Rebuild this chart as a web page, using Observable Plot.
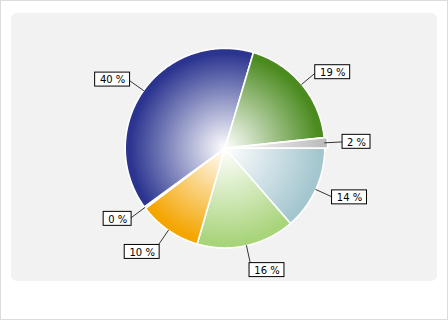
<!DOCTYPE html>
<html><head><meta charset="utf-8">
<script src="https://cdn.jsdelivr.net/npm/d3@7"></script>
<script src="https://cdn.jsdelivr.net/npm/@observablehq/plot@0.6"></script>
<style>
body{margin:0;background:#fff;}
#frame{position:relative;width:446px;height:318px;border:1px solid #dcdcdc;background:#fff;overflow:hidden;}
#panel{position:absolute;left:10px;top:12px;width:426px;height:268px;background:#f2f2f2;border-radius:6px;}
#chart{position:absolute;left:-1px;top:-1px;}
</style></head><body>
<div id="frame"><div id="panel"></div><div id="chart"></div></div>
<script>
// Slices, clockwise from 3 o'clock
const labels   = ["14 %", "16 %", "10 %", "0 %", "40 %", "19 %", "2 %"];
const values   = [13.6, 15.9, 10.2, 0.3, 39.6, 18.7, 1.7];
const colors   = ["#a4c6cf", "#a8d47a", "#f4a500", "#d9d9d9", "#2b3590", "#4a8a1e", "#bdbdbd"];
const exploded = [0, 0, 0, 0, 0, 0, 1];

const total = d3.sum(values);
const TAU = 2 * Math.PI;
const slices = [];
let acc = 0;
values.forEach((v, i) => {
  const a0 = acc / total * TAU, a1 = (acc + v) / total * TAU;
  acc += v;
  const mid = (a0 + a1) / 2;
  const off = exploded[i] ? 0.03 : 0;
  const ox = off * Math.cos(mid), oy = off * Math.sin(mid);
  const pts = [{x: ox, y: oy}];
  const n = Math.max(2, Math.ceil((a1 - a0) / (TAU / 720)));
  for (let k = 0; k <= n; k++) {
    const a = a0 + (a1 - a0) * k / n;
    pts.push({x: ox + Math.cos(a), y: oy + Math.sin(a)});
  }
  pts.push({x: ox, y: oy});
  slices.push({i, mid, ox, oy, pts, label: labels[i]});
});

const LR = 1.19;
const leaders = slices.flatMap(s => [
  {i: s.i, x: Math.cos(s.mid), y: Math.sin(s.mid)},
  {i: s.i, x: LR * Math.cos(s.mid), y: LR * Math.sin(s.mid)}
]);
const boxes = slices.map(s => {
  const c = Math.cos(s.mid), sn = Math.sin(s.mid);
  const ex = LR * c, ey = LR * sn;
  const w = (7 * s.label.length + 7) / 100, h = 0.14;
  const x1 = c >= 0 ? ex - 0.01 : ex + 0.02 - w;
  const y1 = sn > 0.7 ? ey - 0.01 : ey - h / 2;
  return {x1, x2: x1 + w, y1, y2: y1 + h, cx: x1 + w / 2, cy: y1 + h / 2, label: s.label};
});

const marks = slices.map(s => Plot.line(s.pts, {
  x: "x", y: "y", fill: `url(#grad${s.i})`, stroke: "white", strokeWidth: 1.6, curve: "linear"
}));
marks.push(Plot.line(leaders, {x: "x", y: "y", z: "i", stroke: "#333", strokeWidth: 1}));
marks.push(Plot.rect(boxes, {x1: "x1", x2: "x2", y1: "y1", y2: "y2", fill: "white", stroke: "black", strokeWidth: 1}));
marks.push(Plot.text(boxes, {x: "cx", y: "cy", text: "label", fill: "black", fontSize: 10, dy: 0.5}));

const plot = Plot.plot({
  width: 448, height: 320,
  margin: 0,
  style: {background: "transparent", fontFamily: "DejaVu Sans, sans-serif"},
  x: {domain: [-2.25, 2.23], range: [0, 448], axis: null},
  y: {domain: [-1.48, 1.72], range: [0, 320], axis: null},
  marks
});

const xs = plot.scale("x"), ys = plot.scale("y");
const ns = "http://www.w3.org/2000/svg";
const defs = document.createElementNS(ns, "defs");
slices.forEach(s => {
  const g = document.createElementNS(ns, "radialGradient");
  g.setAttribute("id", `grad${s.i}`);
  g.setAttribute("gradientUnits", "userSpaceOnUse");
  g.setAttribute("cx", xs.apply(s.ox));
  g.setAttribute("cy", ys.apply(s.oy));
  g.setAttribute("r", xs.apply(1) - xs.apply(0));
  [[0, "#ffffff"], [0.95, colors[s.i]], [1, colors[s.i]]].forEach(([o, c]) => {
    const st = document.createElementNS(ns, "stop");
    st.setAttribute("offset", o);
    st.setAttribute("stop-color", c);
    g.appendChild(st);
  });
  defs.appendChild(g);
});
plot.insertBefore(defs, plot.firstChild);
document.getElementById("chart").appendChild(plot);
</script>
</body></html>
